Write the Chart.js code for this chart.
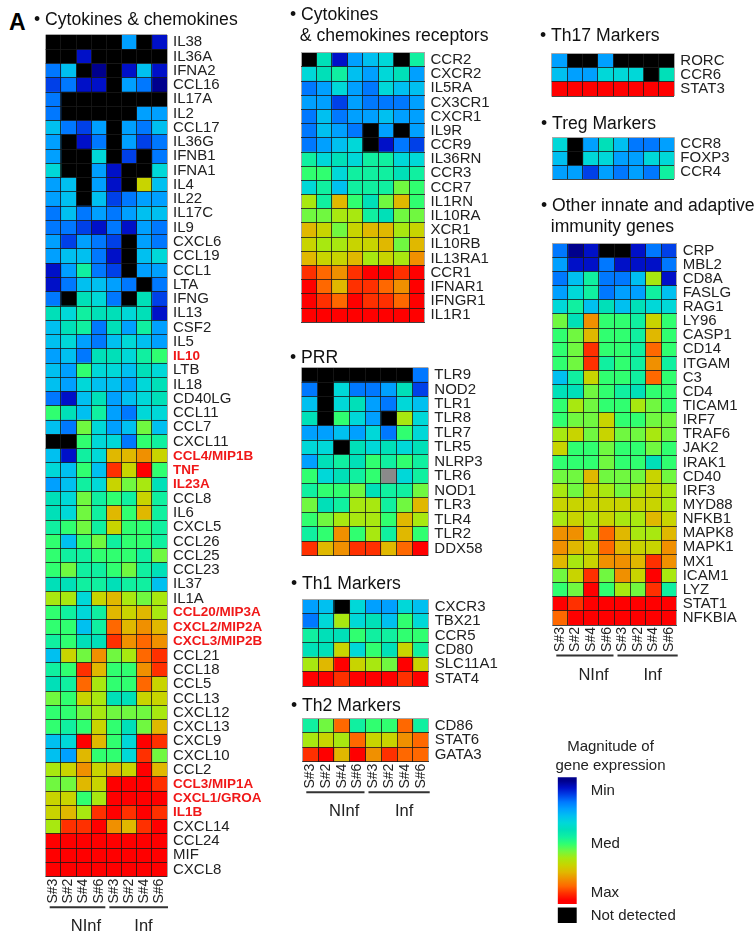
<!DOCTYPE html>
<html><head><meta charset="utf-8">
<script src="https://cdn.jsdelivr.net/npm/chart.js@4.4.1/dist/chart.umd.min.js"></script>
<style>
html,body{margin:0;padding:0;background:#fff;width:754px;height:936px;overflow:hidden;position:relative;}
canvas{position:absolute;}
#panelA{position:absolute;left:9px;top:11px;font:bold 23px 'Liberation Sans',Arial,sans-serif;line-height:23px;color:#000;}
</style></head><body>
<div id="panelA">A</div>
<script>
// ---------------- DATA ----------------
const samples = ['S#3','S#2','S#4','S#6','S#3','S#2','S#4','S#6'];
const groups = ['NInf','Inf'];
// expression level 0 (min) .. 17 (max); null = not detected; -1 = no value (grey)
const cytoGenes = ['IL38','IL36A','IFNA2','CCL16','IL17A','IL2','CCL17','IL36G','IFNB1','IFNA1','IL4','IL22','IL17C','IL9','CXCL6','CCL19','CCL1','LTA','IFNG','IL13','CSF2','IL5','IL10','LTB','IL18','CD40LG','CCL11','CCL7','CXCL11','CCL4/MIP1B','TNF','IL23A','CCL8','IL6','CXCL5','CCL26','CCL25','CCL23','IL37','IL1A','CCL20/MIP3A','CXCL2/MIP2A','CXCL3/MIP2B','CCL21','CCL18','CCL5','CCL13','CXCL12','CXCL13','CXCL9','CXCL10','CCL2','CCL3/MIP1A','CXCL1/GROA','IL1B','CXCL14','CCL24','MIF','CXCL8'];
const cytoValues = [
 [null,null,null,null,null,4,null,1],
 [null,null,1,null,null,null,null,null],
 [3,5,null,0,null,1,5,1],
 [2,3,1,1,null,4,3,0],
 [3,null,null,null,null,null,null,null],
 [3,null,null,null,null,null,4,4],
 [5,3,2,4,null,4,3,5],
 [4,null,1,3,null,4,2,3],
 [4,null,null,6,null,2,null,3],
 [6,null,null,4,1,null,null,6],
 [4,5,null,4,1,null,12,5],
 [4,5,null,5,2,3,4,4],
 [3,5,3,4,3,4,5,5],
 [3,3,2,1,3,1,4,3],
 [4,2,4,3,2,null,4,3],
 [4,5,5,3,1,null,5,6],
 [1,4,8,3,2,null,4,4],
 [1,3,5,5,4,3,null,3],
 [3,null,7,6,3,null,7,2],
 [7,6,8,7,7,6,7,1],
 [5,7,8,3,7,4,8,4],
 [5,6,4,3,5,6,5,4],
 [4,5,3,7,7,6,8,9],
 [5,4,9,6,6,5,7,6],
 [5,4,6,5,5,4,6,7],
 [3,1,5,7,4,5,6,7],
 [9,7,5,8,4,3,6,6],
 [5,3,10,6,4,5,10,5],
 [null,null,9,6,6,3,9,8],
 [5,1,8,6,13,13,14,12],
 [6,5,9,5,16,12,17,9],
 [4,5,8,6,12,10,11,7],
 [7,6,10,8,9,8,12,8],
 [7,6,10,8,13,9,13,8],
 [8,9,10,8,12,9,9,8],
 [9,5,9,10,8,9,9,8],
 [9,8,8,9,9,9,8,10],
 [9,10,8,8,9,10,8,7],
 [7,7,8,8,7,8,8,5],
 [11,11,6,12,13,11,10,11],
 [9,8,6,8,13,12,13,11],
 [9,9,5,8,15,13,14,13],
 [8,9,7,7,16,14,15,14],
 [5,12,10,14,10,11,15,16],
 [8,9,16,13,9,9,14,16],
 [7,8,15,11,9,9,15,12],
 [10,9,12,11,7,7,12,12],
 [9,9,10,11,10,10,10,11],
 [9,8,9,12,9,7,10,13],
 [5,6,17,13,9,6,17,16],
 [5,4,13,9,9,6,16,10],
 [11,12,14,12,13,12,17,13],
 [10,10,13,12,17,17,17,16],
 [12,12,9,11,17,17,17,17],
 [12,13,11,16,17,16,17,16],
 [11,16,16,17,14,13,16,17],
 [17,17,17,17,17,17,17,17],
 [17,17,17,17,17,17,17,17],
 [17,17,17,17,17,17,17,17]
];
const redGenes = ['IL10','CCL4/MIP1B','TNF','IL23A','CCL20/MIP3A','CXCL2/MIP2A','CXCL3/MIP2B','CCL3/MIP1A','CXCL1/GROA','IL1B'];

const receptorGenes = ['CCR2','CXCR2','IL5RA','CX3CR1','CXCR1','IL9R','CCR9','IL36RN','CCR3','CCR7','IL1RN','IL10RA','XCR1','IL10RB','IL13RA1','CCR1','IFNAR1','IFNGR1','IL1R1'];
const receptorValues = [
 [null,7,1,4,5,6,null,8],
 [6,7,8,5,4,6,7,4],
 [3,4,6,4,3,6,5,5],
 [4,4,2,4,3,3,3,4],
 [3,5,3,4,4,5,4,4],
 [3,5,4,3,null,4,null,4],
 [3,4,5,6,null,1,3,2],
 [8,6,7,6,8,8,6,6],
 [9,9,6,8,8,8,7,8],
 [6,8,5,8,8,8,10,9],
 [11,8,13,9,7,10,13,9],
 [10,10,11,11,8,7,10,10],
 [13,12,10,12,13,13,11,12],
 [12,11,11,12,12,13,10,13],
 [13,12,12,13,11,12,11,14],
 [16,15,14,16,17,17,16,17],
 [17,15,13,16,16,15,14,17],
 [17,16,15,17,16,16,15,17],
 [17,17,17,17,17,17,17,17]
];

const prrGenes = ['TLR9','NOD2','TLR1','TLR8','TLR7','TLR5','NLRP3','TLR6','NOD1','TLR3','TLR4','TLR2','DDX58'];
const prrValues = [
 [null,null,null,null,null,null,null,3],
 [3,null,6,3,3,4,7,2],
 [5,null,6,7,4,3,6,5],
 [7,null,9,6,4,null,11,6],
 [4,4,5,4,6,3,9,6],
 [6,6,null,7,6,7,6,7],
 [4,7,8,7,9,8,9,8],
 [9,6,7,8,9,-1,6,8],
 [8,9,9,10,7,8,8,10],
 [10,7,8,11,11,8,10,13],
 [9,10,11,11,11,9,13,11],
 [8,9,14,9,11,8,13,9],
 [16,13,14,16,16,13,15,17]
];

const th1Genes = ['CXCR3','TBX21','CCR5','CD80','SLC11A1','STAT4'];
const th1Values = [
 [4,5,null,6,4,4,6,5],
 [3,6,11,6,7,5,9,6],
 [8,7,7,9,8,8,9,9],
 [7,7,12,6,9,7,12,8],
 [11,13,17,12,11,10,17,12],
 [17,17,16,17,17,17,16,17]
];

const th2Genes = ['CD86','STAT6','GATA3'];
const th2Values = [
 [8,10,15,8,9,9,15,8],
 [11,12,11,15,12,12,14,15],
 [16,17,13,17,14,16,15,15]
];

const th17Genes = ['RORC','CCR6','STAT3'];
const th17Values = [
 [4,null,null,4,null,null,null,null],
 [5,4,4,6,6,6,null,7],
 [17,17,17,17,17,17,17,17]
];

const tregGenes = ['CCR8','FOXP3','CCR4'];
const tregValues = [
 [6,null,4,7,5,3,3,4],
 [5,null,6,6,4,4,6,6],
 [4,4,2,4,3,4,3,8]
];

const otherGenes = ['CRP','MBL2','CD8A','FASLG','RAG1','LY96','CASP1','CD14','ITGAM','C3','CD4','TICAM1','IRF7','TRAF6','JAK2','IRAK1','CD40','IRF3','MYD88','NFKB1','MAPK8','MAPK1','MX1','ICAM1','LYZ','STAT1','NFKBIA'];
const otherValues = [
 [3,0,1,null,null,1,3,2],
 [4,1,1,3,1,1,1,3],
 [3,5,8,3,3,5,11,1],
 [4,6,8,3,4,4,8,5],
 [6,8,5,7,5,7,6,6],
 [10,7,14,9,9,8,12,9],
 [9,10,13,9,9,8,13,9],
 [9,10,16,9,9,8,15,9],
 [9,10,16,8,9,8,14,8],
 [5,8,12,9,9,8,15,9],
 [7,7,10,9,8,7,9,9],
 [9,11,10,9,9,11,10,9],
 [9,10,10,12,9,9,10,10],
 [11,12,10,12,10,10,11,10],
 [12,9,9,10,9,9,10,9],
 [9,9,9,10,9,9,7,9],
 [10,10,13,10,10,10,12,10],
 [11,10,12,11,10,11,12,11],
 [12,12,12,12,12,12,12,11],
 [11,12,11,12,11,11,13,12],
 [14,14,11,15,13,11,11,13],
 [14,13,12,15,13,12,12,14],
 [13,11,12,14,14,13,16,14],
 [10,12,16,10,14,12,17,11],
 [9,10,17,9,11,10,16,8],
 [17,16,17,17,17,17,17,17],
 [15,17,17,17,17,17,17,17]
];

const legendLabels = ['Min','Med','Max','Not detected'];
const legendTicks = [1.5, 9, 16, 19.2];

// ---------------- STYLE ----------------
const FONT = "'Liberation Sans', Arial, Helvetica, sans-serif";
const PALETTE = ['#00008c','#0010c8','#0040e8','#0078ff','#00a0ff','#00c0f0','#00d8d8','#00e0b8','#10f0a0','#30ff70','#70f840','#a8e810','#c8d400','#e0b800','#f09000','#ff6800','#ff3000','#ff0000'];
const NA_COLOR = '#000000', MISSING_COLOR = '#8a8a8a';
function colorOf(v){ if (v === null) return NA_COLOR; if (v < 0) return MISSING_COLOR; return PALETTE[v]; }

function noPad(s) { s.paddingTop = 0; s.paddingBottom = 0; s.paddingLeft = 0; s.paddingRight = 0; }

const groupPlugin = {
  id: 'groupBrackets',
  afterDraw(chart, args, opts) {
    if (!opts || !opts.display) return;
    const x = chart.scales.x, b = chart.chartArea.bottom, ctx = chart.ctx;
    ctx.save();
    ctx.strokeStyle = '#333'; ctx.lineWidth = 2;
    const ly = b + 30.5;
    ctx.beginPath();
    ctx.moveTo(x.getPixelForValue(0) + 4, ly); ctx.lineTo(x.getPixelForValue(4) - 1, ly);
    ctx.moveTo(x.getPixelForValue(4) + 3, ly); ctx.lineTo(x.getPixelForValue(8) + 1, ly);
    ctx.stroke();
    ctx.fillStyle = '#222'; ctx.font = '16.5px ' + FONT; ctx.textAlign = 'center'; ctx.textBaseline = 'middle';
    ctx.fillText(groups[0], x.getPixelForValue(2.65), b + 50);
    ctx.fillText(groups[1], x.getPixelForValue(6.45), b + 50);
    ctx.restore();
  }
};
Chart.register(groupPlugin);

function addCanvas(left, top, width, height) {
  const cv = document.createElement('canvas');
  cv.width = width; cv.height = height;
  cv.style.left = left + 'px'; cv.style.top = top + 'px';
  cv.style.width = width + 'px'; cv.style.height = height + 'px';
  document.body.appendChild(cv);
  return cv;
}

function makeHeatmap(p) {
  const TS = 17.6, TLH = 1.22, lineH = TS * TLH;
  const canvasLeft = Math.floor(p.rect.l - 11);
  const canvasTop = Math.floor(p.titleY - lineH / 2);
  const width = Math.ceil(p.rect.r - canvasLeft + p.axisW);
  const bottomExtra = p.samples ? 62 : 2;
  const height = Math.ceil(p.rect.b - canvasTop + bottomExtra);
  const cv = addCanvas(canvasLeft, canvasTop, width, height);
  const leftW = p.rect.l - canvasLeft;
  const rightW = width - (p.rect.r - canvasLeft);
  const padBottom = (p.rect.t - canvasTop) - p.title.length * lineH;
  const bottomH = height - (p.rect.b - canvasTop);
  const n = p.genes.length;
  const dark = 'rgba(25,25,25,0.8)', edge = '#a8a8a8';
  const datasets = samples.map((s, j) => ({
    label: s,
    data: p.genes.map(() => 1),
    backgroundColor: p.values.map(r => colorOf(r[j])),
    borderWidth: 0,
    categoryPercentage: 1,
    barPercentage: 1
  }));
  const scales = {
    x: {
      type: 'linear', stacked: true, min: 0, max: 8, position: 'bottom',
      ticks: { display: false, stepSize: 1 },
      grid: { display: true, drawTicks: false, lineWidth: 1, z: 1,
        color: c => (c.index === 0 || c.index === 8) ? edge : dark },
      border: { display: false },
      afterFit: s => { s.height = p.samples ? 0 : bottomH; noPad(s); }
    },
    y: {
      type: 'category', stacked: true, position: 'right',
      grid: { display: true, drawTicks: false, lineWidth: 1, z: 1,
        color: c => (c.index === 0 || c.index === n) ? edge : dark },
      border: { display: false },
      ticks: {
        autoSkip: false, padding: 6,
        color: c => redGenes.includes(p.genes[c.index]) ? '#f01818' : '#222',
        font: c => redGenes.includes(p.genes[c.index]) ? { family: FONT, size: 13.5, weight: 'bold' } : { family: FONT, size: 15 }
      },
      afterFit: s => { s.width = rightW; noPad(s); }
    },
    pad: {
      type: 'linear', axis: 'y', position: 'left', display: true,
      grid: { display: false }, border: { display: false }, ticks: { display: false },
      afterFit: s => { s.width = leftW; noPad(s); }
    }
  };
  if (p.samples) {
    scales.x2 = {
      type: 'category', axis: 'x', labels: samples, offset: true, position: 'bottom',
      grid: { display: false, drawTicks: false }, border: { display: false },
      ticks: { autoSkip: false, maxRotation: 90, minRotation: 90, padding: 2, color: '#222', font: { family: FONT, size: 14 } },
      afterFit: s => { s.height = bottomH; noPad(s); }
    };
  }
  new Chart(cv, {
    type: 'bar',
    data: { labels: p.genes, datasets },
    options: {
      indexAxis: 'y', responsive: false, animation: false, devicePixelRatio: 1, events: [],
      layout: { padding: 0, autoPadding: false },
      plugins: {
        legend: { display: false }, tooltip: { enabled: false },
        title: { display: true, text: p.title, align: 'start', color: '#111',
          font: { family: FONT, size: TS, lineHeight: TLH, weight: 'normal' },
          padding: { top: 0, bottom: padBottom } },
        groupBrackets: { display: !!p.samples }
      },
      scales
    }
  });
}

makeHeatmap({ genes: cytoGenes, values: cytoValues, title: ['• Cytokines & chemokines'], rect: { l: 45.7, r: 167, t: 35, b: 876.7 }, titleY: 20, axisW: 100, samples: true });
makeHeatmap({ genes: receptorGenes, values: receptorValues, title: ['• Cytokines', '  & chemokines receptors'], rect: { l: 301, r: 424.5, t: 52.7, b: 322.3 }, titleY: 15.7, axisW: 85 });
makeHeatmap({ genes: prrGenes, values: prrValues, title: ['• PRR'], rect: { l: 301.7, r: 428.3, t: 367.7, b: 555.7 }, titleY: 358.3, axisW: 80 });
makeHeatmap({ genes: th1Genes, values: th1Values, title: ['• Th1 Markers'], rect: { l: 302.3, r: 428.7, t: 599.3, b: 686 }, titleY: 584.5, axisW: 80 });
makeHeatmap({ genes: th2Genes, values: th2Values, title: ['• Th2 Markers'], rect: { l: 302.3, r: 428.7, t: 718.3, b: 761.7 }, titleY: 706.7, axisW: 80, samples: true });
makeHeatmap({ genes: th17Genes, values: th17Values, title: ['• Th17 Markers'], rect: { l: 551.7, r: 674.3, t: 53.3, b: 96 }, titleY: 36.7, axisW: 90 });
makeHeatmap({ genes: tregGenes, values: tregValues, title: ['• Treg Markers'], rect: { l: 552.3, r: 674.3, t: 137.3, b: 179.3 }, titleY: 124.3, axisW: 90 });
makeHeatmap({ genes: otherGenes, values: otherValues, title: ['• Other innate and adaptive', '  immunity genes'], rect: { l: 552.3, r: 676.7, t: 243.3, b: 625 }, titleY: 206.7, axisW: 90, samples: true });

(function makeLegend() {
  const left = 540, top = 737, width = 141, height = 186;
  const barL = 557.7, barR = 576.7, areaTop = 777.3;
  const TS = 15, TLH = 1.3;
  const cv = addCanvas(left, top, width, height);
  const gradient = c => {
    const ch = c.chart, y = ch.scales.y;
    if (!ch.chartArea || !y) return PALETTE[9];
    const y0 = y.getPixelForValue(-0.5), y1 = y.getPixelForValue(17.5);
    const g = ch.ctx.createLinearGradient(0, y0, 0, y1);
    g.addColorStop(0, PALETTE[0]);
    PALETTE.forEach((col, i) => g.addColorStop((i + 0.5) / PALETTE.length, col));
    g.addColorStop(1, PALETTE[PALETTE.length - 1]);
    return g;
  };
  new Chart(cv, {
    type: 'bar',
    data: { labels: [''], datasets: [
      { data: [[-0.5, 17.5]], backgroundColor: gradient, grouped: false, borderWidth: 0, categoryPercentage: 1, barPercentage: 1 },
      { data: [[18.1, 20.25]], backgroundColor: NA_COLOR, grouped: false, borderWidth: 0, categoryPercentage: 1, barPercentage: 1 }
    ] },
    options: {
      responsive: false, animation: false, devicePixelRatio: 1, events: [],
      layout: { padding: 0, autoPadding: false },
      plugins: {
        legend: { display: false }, tooltip: { enabled: false },
        title: { display: true, text: ['Magnitude of', 'gene expression'], align: 'center', color: '#222',
          font: { family: FONT, size: TS, lineHeight: TLH, weight: 'normal' },
          padding: { top: 0, bottom: areaTop - top - 2 * TS * TLH } }
      },
      scales: {
        x: { display: false },
        y: {
          type: 'linear', position: 'right', reverse: true, min: -0.5, max: 20.25,
          grid: { display: false, drawTicks: false }, border: { display: false },
          afterBuildTicks: s => { s.ticks = legendTicks.map(v => ({ value: v })); },
          ticks: { autoSkip: false, padding: 14, color: '#222', font: { family: FONT, size: 15 },
            callback: (v, i) => legendLabels[i] },
          afterFit: s => { s.width = width - (barR - left); noPad(s); }
        },
        pad: {
          type: 'linear', axis: 'y', position: 'left', display: true,
          grid: { display: false }, border: { display: false }, ticks: { display: false },
          afterFit: s => { s.width = barL - left; noPad(s); }
        }
      }
    }
  });
})();
</script>
</body></html>
